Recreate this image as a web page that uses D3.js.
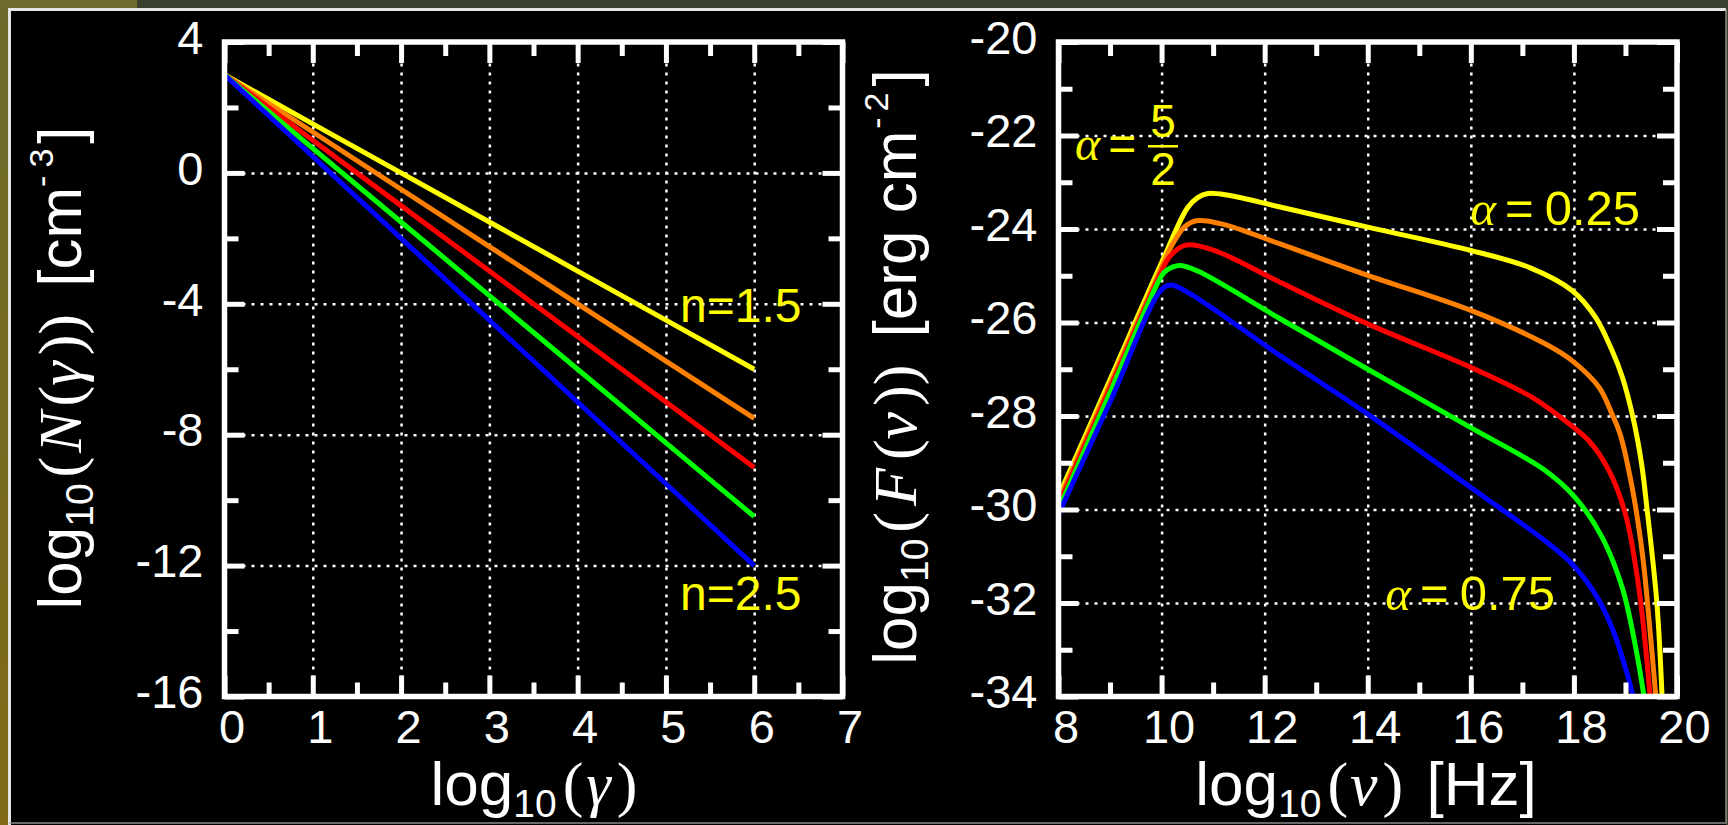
<!DOCTYPE html>
<html>
<head>
<meta charset="utf-8">
<script src="https://cdn.jsdelivr.net/npm/d3@7"></script>
<style>
html, body { margin: 0; padding: 0; background: #000; overflow: hidden; }
svg { display: block; }
.tick text { font-family: "Liberation Sans", Arial, sans-serif; font-size: 47px; fill: #fff; }
.ticks line { stroke: #fff; stroke-width: 5; }
.grid line { stroke: #fff; stroke-width: 2.5; stroke-dasharray: 3,6; }
</style>
</head>
<body>
<svg width="1728" height="825"></svg>
<script>
var SANS = '"Liberation Sans", Arial, sans-serif';
var SERIF = '"Liberation Serif", "DejaVu Serif", serif';

var seriesColors = ["#ffff00", "#ff8000", "#ff0000", "#00ff00", "#0000ff"];

// left panel: log10(N(gamma)) for n = 1.5 ... 2.5
var gammaLog = [0, 1, 2, 3, 4, 5, 6];
var nYellow = [3, 1.5, 0, -1.5, -3, -4.5, -6];
var nOrange = [3, 1.25, -0.5, -2.25, -4, -5.75, -7.5];
var nRed = [3, 1, -1, -3, -5, -7, -9];
var nGreen = [3, 0.75, -1.5, -3.75, -6, -8.25, -10.5];
var nBlue = [3, 0.5, -2, -4.5, -7, -9.5, -12];

var leftXMajor = [0, 1, 2, 3, 4, 5, 6, 7];
var leftXMinor = [0.5, 1.5, 2.5, 3.5, 4.5, 5.5, 6.5];
var leftXGrid = [1, 2, 3, 4, 5, 6];
var leftYMajor = [-16, -12, -8, -4, 0, 4];
var leftYMinor = [-14, -10, -6, -2, 2];
var leftYGrid = [-12, -8, -4, 0];

// right panel: log10(F(nu)) spectra, alpha = 0.25 ... 0.75
var nuYellow = [8, 9, 10, 10.5, 10.7, 10.9, 11.3, 12.3, 14, 16, 17.13, 17.97, 18.42, 18.74, 18.94, 19.15, 19.31, 19.42, 19.61, 19.71];
var fYellow = [-29.72, -27.22, -24.72, -23.55, -23.33, -23.24, -23.28, -23.53, -23.96, -24.46, -24.82, -25.32, -25.89, -26.6, -27.17, -28.05, -29.0, -30.0, -32.0, -34.0];
var nuOrange = [8, 9, 10, 10.2, 10.45, 10.7, 11.2, 12.3, 14, 16, 17.45, 17.97, 18.49, 18.74, 18.9, 19.13, 19.33, 19.46, 19.59];
var fOrange = [-29.82, -27.32, -24.82, -24.35, -23.95, -23.82, -23.9, -24.32, -24.99, -25.74, -26.46, -26.82, -27.39, -27.96, -28.4, -29.53, -30.96, -32.39, -34.0];
var nuRed = [8, 9, 10, 10.15, 10.45, 11, 12.3, 14, 16, 17.19, 17.77, 18.29, 18.68, 19.0, 19.26, 19.48];
var fRed = [-29.9, -27.4, -24.9, -24.6, -24.35, -24.45, -25.14, -26.03, -26.96, -27.6, -28.05, -28.53, -29.17, -30.1, -31.68, -34.0];
var nuGreen = [8, 9, 10, 10.1, 10.35, 10.7, 12.3, 14, 16, 17.45, 18.03, 18.55, 18.94, 19.2, 19.36];
var fGreen = [-30.0, -27.5, -25.0, -24.88, -24.78, -24.9, -25.92, -27.0, -28.25, -29.17, -29.75, -30.6, -31.68, -32.96, -34.0];
var nuBlue = [8, 9, 9.98, 10.17, 10.5, 12.3, 14, 16, 17.45, 17.97, 18.42, 18.74, 19.0, 19.15];
var fBlue = [-30.1, -27.7, -25.32, -25.2, -25.35, -26.71, -27.96, -29.53, -30.68, -31.17, -31.82, -32.53, -33.39, -34.0];

var rightXMajor = [8, 10, 12, 14, 16, 18, 20];
var rightXMinor = [9, 11, 13, 15, 17, 19];
var rightXGrid = [10, 12, 14, 16, 18];
var rightYMajor = [-34, -32, -30, -28, -26, -24, -22, -20];
var rightYMinor = [-33, -31, -29, -27, -25, -23, -21];
var rightYGrid = [-32, -30, -28, -26, -24, -22];

var svg = d3.select("svg");

// slide background and frame
var grad = svg.append("defs").append("linearGradient")
    .attr("id", "olive").attr("x1", 0).attr("y1", 0).attr("x2", 0).attr("y2", 1);
grad.append("stop").attr("offset", 0).attr("stop-color", "#6c6a2c");
grad.append("stop").attr("offset", 1).attr("stop-color", "#806a16");
svg.append("rect").attr("width", 1728).attr("height", 825).attr("fill", "#3b412f");
svg.append("rect").attr("width", 8).attr("height", 825).attr("fill", "url(#olive)");
svg.append("rect").attr("width", 137).attr("height", 8).attr("fill", "#6c6a2c");
svg.append("rect").attr("x", 8).attr("y", 8).attr("width", 1718).attr("height", 817).attr("fill", "#000");
svg.append("path").attr("d", "M9.5,825V9.5H1726").attr("fill", "none").attr("stroke", "#e6e6e6").attr("stroke-width", 3);
svg.append("path").attr("d", "M1726,9.5V823H9.5").attr("fill", "none").attr("stroke", "#8a8a8a").attr("stroke-width", 1.5);

// rich text: array of parts {t, f, s, i, dy, dx}
function richText(g, parts, size) {
    var text = g.append("text").attr("fill", "#fff");
    parts.forEach(function (p) {
        var ts = text.append("tspan")
            .style("font-family", p.f === "serif" ? SERIF : SANS)
            .style("font-size", (p.s || size) + "px")
            .text(p.t);
        if (p.i) ts.style("font-style", "italic");
        if (p.dy) ts.attr("dy", p.dy);
        if (p.dx) ts.attr("dx", p.dx);
    });
    return text;
}

// center a text on its own box (local coordinates)
function centerText(text) {
    var bb = text.node().getBBox();
    text.attr("x", -(bb.x + bb.width / 2));
    return text;
}

function drawPanel(p) {
    var x = p.x, y = p.y;
    var x0 = x.range()[0], x1 = x.range()[1], y0 = y.range()[0], y1 = y.range()[1];
    var g = svg.append("g");
    var noDomain = function (s) { s.select(".domain").remove(); };

    g.append("g").attr("class", "grid").attr("transform", "translate(0," + y0 + ")")
        .call(d3.axisBottom(x).tickValues(p.xGrid).tickSize(-(y0 - y1)).tickFormat(""))
        .call(noDomain);
    g.append("g").attr("class", "grid").attr("transform", "translate(" + x0 + ",0)")
        .call(d3.axisLeft(y).tickValues(p.yGrid).tickSize(-(x1 - x0)).tickFormat(""))
        .call(noDomain);

    var clipId = "clip" + p.id;
    svg.append("clipPath").attr("id", clipId).append("rect")
        .attr("x", x0).attr("y", y1).attr("width", x1 - x0).attr("height", y0 - y1);

    var line = d3.line()
        .x(function (d) { return x(d[0]); })
        .y(function (d) { return y(d[1]); })
        .curve(p.curve);
    g.append("g").attr("clip-path", "url(#" + clipId + ")")
        .selectAll("path").data(p.series).join("path")
        .attr("d", function (s) { return line(d3.zip(s.xs, s.ys)); })
        .attr("fill", "none")
        .attr("stroke", function (s, i) { return seriesColors[i]; })
        .attr("stroke-width", 5)
        .attr("stroke-linejoin", "round");

    var fmt = function (d) { return String(d); };
    var ticks = g.append("g").attr("class", "ticks");
    ticks.append("g").attr("transform", "translate(0," + y0 + ")")
        .call(d3.axisBottom(x).tickValues(p.xMajor).tickSizeInner(-21).tickSizeOuter(0).tickPadding(13).tickFormat(fmt))
        .call(noDomain)
        .selectAll("text").attr("dx", 7);
    ticks.append("g").attr("transform", "translate(0," + y0 + ")")
        .call(d3.axisBottom(x).tickValues(p.xMinor).tickSize(-14).tickFormat(""))
        .call(noDomain);
    ticks.append("g").attr("transform", "translate(0," + y1 + ")")
        .call(d3.axisTop(x).tickValues(p.xMajor).tickSize(-21).tickFormat(""))
        .call(noDomain);
    ticks.append("g").attr("transform", "translate(0," + y1 + ")")
        .call(d3.axisTop(x).tickValues(p.xMinor).tickSize(-14).tickFormat(""))
        .call(noDomain);
    ticks.append("g").attr("transform", "translate(" + x0 + ",0)")
        .call(d3.axisLeft(y).tickValues(p.yMajor).tickSizeInner(-20).tickSizeOuter(0).tickPadding(21).tickFormat(fmt))
        .call(noDomain)
        .selectAll("text").attr("dy", "0.24em");
    ticks.append("g").attr("transform", "translate(" + x0 + ",0)")
        .call(d3.axisLeft(y).tickValues(p.yMinor).tickSize(-14).tickFormat(""))
        .call(noDomain);
    ticks.append("g").attr("transform", "translate(" + x1 + ",0)")
        .call(d3.axisRight(y).tickValues(p.yMajor).tickSize(-20).tickFormat(""))
        .call(noDomain);
    ticks.append("g").attr("transform", "translate(" + x1 + ",0)")
        .call(d3.axisRight(y).tickValues(p.yMinor).tickSize(-14).tickFormat(""))
        .call(noDomain);

    g.append("rect").attr("x", x0).attr("y", y1).attr("width", x1 - x0).attr("height", y0 - y1)
        .attr("fill", "none").attr("stroke", "#fff").attr("stroke-width", 5.5);

    // axis titles
    var xt = g.append("g").attr("transform", "translate(" + p.xTitleX + ",805)");
    centerText(richText(xt, p.xTitle, 62));
    var yt = g.append("g").attr("transform", "translate(" + p.yTitleX + "," + p.yTitleY + ") rotate(-90)");
    centerText(richText(yt, p.yTitle, 62));
    return g;
}

var xL = d3.scaleLinear().domain([0, 7]).range([224.5, 842.5]);
var yL = d3.scaleLinear().domain([-16, 4]).range([696.5, 42]);
var xR = d3.scaleLinear().domain([8, 20]).range([1058.5, 1677]);
var yR = d3.scaleLinear().domain([-34, -20]).range([696.5, 42]);

var leftPanel = drawPanel({
    id: "L", x: xL, y: yL, curve: d3.curveLinear,
    xMajor: leftXMajor, xMinor: leftXMinor, xGrid: leftXGrid,
    yMajor: leftYMajor, yMinor: leftYMinor, yGrid: leftYGrid,
    series: [nYellow, nOrange, nRed, nGreen, nBlue].map(function (ys) { return { xs: gammaLog, ys: ys }; }),
    xTitleX: 534,
    xTitle: [
        { t: "log" }, { t: "10", s: 39, dy: 12 },
        { t: "(", f: "serif", dy: -12, dx: 6 }, { t: "γ", f: "serif", i: true, dx: 3 }, { t: ")", f: "serif", dx: 6 }
    ],
    yTitleX: 81, yTitleY: 368,
    yTitle: [
        { t: "log" }, { t: "10", s: 39, dy: 12 },
        { t: "(", f: "serif", dy: -12, dx: 6 }, { t: "N", f: "serif", i: true, dx: 4 }, { t: "(", f: "serif", dx: 5 },
        { t: "γ", f: "serif", i: true }, { t: "))", f: "serif", dx: 6 },
        { t: " [cm", dx: 10 }, { t: "-", s: 34, dy: -28 }, { t: "3", s: 34, dx: 8 }, { t: "]", dy: 28, dx: 5 }
    ]
});

var rightPanel = drawPanel({
    id: "R", x: xR, y: yR, curve: d3.curveCatmullRom.alpha(0.5),
    xMajor: rightXMajor, xMinor: rightXMinor, xGrid: rightXGrid,
    yMajor: rightYMajor, yMinor: rightYMinor, yGrid: rightYGrid,
    series: [
        { xs: nuYellow, ys: fYellow }, { xs: nuOrange, ys: fOrange }, { xs: nuRed, ys: fRed },
        { xs: nuGreen, ys: fGreen }, { xs: nuBlue, ys: fBlue }
    ],
    xTitleX: 1366,
    xTitle: [
        { t: "log" }, { t: "10", s: 39, dy: 12 },
        { t: "(", f: "serif", dy: -12, dx: 6 }, { t: "ν", f: "serif", i: true, dx: 2 }, { t: ")", f: "serif", dx: 5 },
        { t: " [Hz]", dx: 6 }
    ],
    yTitleX: 916, yTitleY: 367,
    yTitle: [
        { t: "log" }, { t: "10", s: 39, dy: 12 },
        { t: "(", f: "serif", dy: -12, dx: 6 }, { t: "F", f: "serif", i: true, dx: 6 }, { t: "(", f: "serif", dx: 8 },
        { t: "ν", f: "serif", i: true }, { t: "))", f: "serif", dx: 6 },
        { t: " [erg cm", dx: 10 }, { t: "-", s: 34, dy: -28, dx: 2 }, { t: "2", s: 34, dx: 6 }, { t: "]", dy: 28, dx: 6 }
    ]
});

// curve annotations (anchor in data units)
var nAnnotations = [
    { x: 5.16, y: -4.56, text: "n=1.5" },
    { x: 5.16, y: -13.37, text: "n=2.5" }
];
var alphaAnnotations = [
    { x: 15.99, y: -23.92, value: "0.25" },
    { x: 14.34, y: -32.16, value: "0.75" }
];

nAnnotations.forEach(function (a) {
    svg.append("text").attr("x", xL(a.x)).attr("y", yL(a.y))
        .style("font-family", SANS).style("font-size", "48px").attr("fill", "#ffff00")
        .text(a.text);
});

alphaAnnotations.forEach(function (a) {
    var g = svg.append("g").attr("transform", "translate(" + xR(a.x) + "," + yR(a.y) + ")");
    richText(g, [
        { t: "α", f: "serif", i: true },
        { t: "=", dx: 9 },
        { t: a.value, dx: 11 }
    ], 49).attr("fill", "#ffff00");
});

// alpha = 5/2 in the optically thick part
var thick = svg.append("g").attr("transform", "translate(" + xR(8.32) + "," + yR(-22.53) + ")");
richText(thick, [{ t: "α", f: "serif", i: true }, { t: "=", dx: 8 }], 48).attr("fill", "#ffff00");
thick.append("text").attr("x", 88).attr("y", -23).attr("text-anchor", "middle")
    .style("font-family", SANS).style("font-size", "46px").attr("fill", "#ffff00").text("5");
thick.append("text").attr("x", 88).attr("y", 25).attr("text-anchor", "middle")
    .style("font-family", SANS).style("font-size", "46px").attr("fill", "#ffff00").text("2");
thick.append("line").attr("x1", 73).attr("x2", 103).attr("y1", -14).attr("y2", -14)
    .attr("stroke", "#ffff00").attr("stroke-width", 2.5);
</script>
</body>
</html>
